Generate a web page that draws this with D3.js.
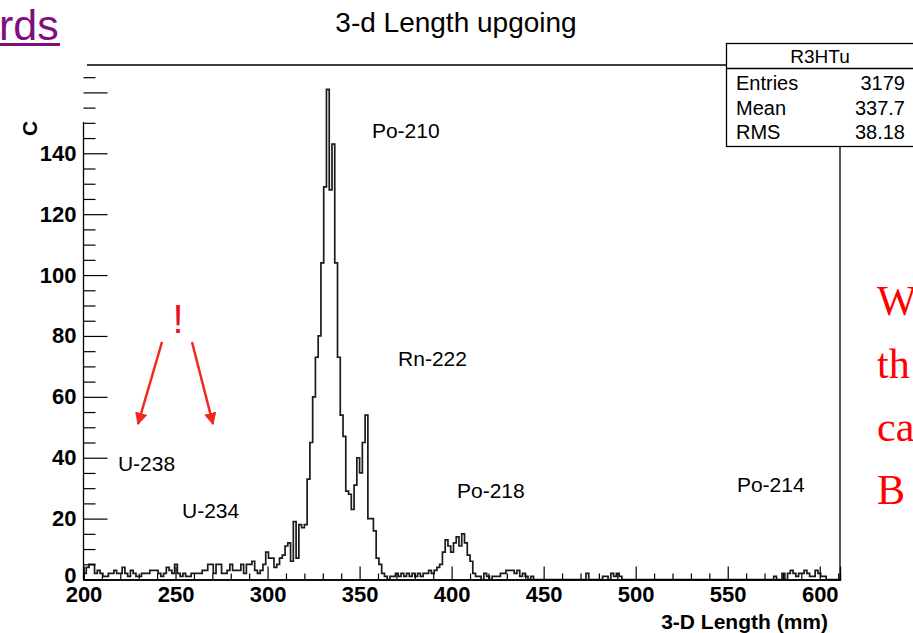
<!DOCTYPE html>
<html><head><meta charset="utf-8">
<script src="https://cdn.jsdelivr.net/npm/d3@7/dist/d3.min.js"></script>
<style>html,body{margin:0;padding:0;background:#fff;overflow:hidden}</style>
</head><body>
<svg id="c" width="913" height="633"></svg>
<script>
// ---- data ----
const histTitle = "3-d Length upgoing";
const xTitle = "3-D Length (mm)";
const yTitleVisible = "C";
const binStart = 200, binWidth = 1.5;
const counts = [
2,4,5,5,2,3,2,1,1,2,
2,3,2,2,4,2,1,3,2,1,
1,2,2,2,3,3,3,2,1,2,
4,3,2,5,2,1,2,1,1,2,
2,2,2,3,3,5,5,2,5,5,
2,2,3,5,3,3,3,5,2,5,
5,6,3,2,3,5,9,7,7,4,
5,7,8,11,12,6,19,7,18,17,
18,33,45,60,73,80,104,129,161,128,
143,104,73,54,47,29,28,23,31,40,
35,45,54,20,20,16,7,5,2,1,
0,1,1,2,1,2,1,2,1,2,
1,2,1,2,2,3,2,3,4,5,
9,13,11,9,12,14,11,15,12,8,
6,2,1,1,0,2,1,0,1,1,
1,2,2,3,3,3,2,3,1,2,
1,0,1,0,0,0,0,0,0,0,
0,0,0,0,0,0,0,0,0,0,
0,0,2,0,0,0,0,0,1,1,
0,2,1,2,1,0,0,0,0,0,
0,0,0,0,0,0,0,0,0,0,
0,0,0,0,0,0,0,0,0,0,
0,0,0,0,0,0,0,0,0,0,
0,0,0,0,0,0,0,0,0,0,
0,0,0,0,0,0,0,0,0,0,
1,0,0,2,0,2,3,2,1,2,
2,3,2,1,1,3,2,1,1,0,
0,0,0,0];
const xDomain = [200, 611];
const yDomain = [0, 169];
const xMajorTicks = [200,250,300,350,400,450,500,550,600];
const yMajorLabels = [0,20,40,60,80,100,120,140];
const statsName = "R3HTu";
const statsLabels = ["Entries","Mean","RMS"];
const statsValues = ["3179","337.7","38.18"];
const peakNames = ["Po-210","Rn-222","Po-218","Po-214","U-238","U-234"];
const peakAt = [[356.7,145],[370.9,70],[402.9,26.8],[555,28.7],[218.7,35.6],[253.5,20.2]];
const sideText = ["W","th","ca","B"];

// ---- drawing ----
const svg = d3.select("#c");
const sans = "'Liberation Sans', Arial, sans-serif";
const x = d3.scaleLinear().domain(xDomain).range([83.5, 840]);
const y = d3.scaleLinear().domain(yDomain).range([579.5, 65]);

// title
svg.append("text").attr("x", 456).attr("y", 32).attr("text-anchor","middle")
  .attr("font-family", sans).attr("font-size", 28).text(histTitle);

// slide link text
svg.append("text").attr("x", -1).attr("y", 40).attr("font-family", sans)
  .attr("font-size", 43).attr("fill", "#7f0f7f").text("rds");
svg.append("rect").attr("x", 0).attr("y", 43).attr("width", 60).attr("height", 3).attr("fill", "#7f0f7f");

// frame
const g = svg.append("g");
g.append("line").attr("x1", 87).attr("x2", x.range()[1]).attr("y1", y.range()[1]).attr("y2", y.range()[1]).attr("stroke","#000").attr("stroke-width",1.3);
g.append("line").attr("x1", x.range()[1]).attr("x2", x.range()[1]).attr("y1", y.range()[1]).attr("y2", y.range()[0]).attr("stroke","#000").attr("stroke-width",1.3);

// histogram
const pts = counts.map((c,i) => [binStart + i*binWidth, c]);
pts.push([binStart + counts.length*binWidth, counts[counts.length-1]]);
const line = d3.line().x(d => x(d[0])).y(d => y(d[1])).curve(d3.curveStepAfter);
g.append("path").attr("d", line(pts)).attr("fill","none").attr("stroke","#1a1a1a").attr("stroke-width",1.7);

// x axis
const xMinor = d3.range(200, 611, 10).filter(v => v % 50 !== 0);
const xa1 = d3.axisBottom(x).tickValues(xMinor).tickSize(-6).tickFormat("");
const xa2 = d3.axisBottom(x).tickValues(xMajorTicks).tickSize(-13).tickPadding(8).tickFormat(d3.format("d"));
const gx1 = g.append("g").attr("transform", `translate(0,${y(0)})`).call(xa1);
const gx2 = g.append("g").attr("transform", `translate(0,${y(0)})`).call(xa2);
[gx1, gx2].forEach(a => { a.select(".domain").attr("stroke","#000").attr("stroke-width",1.3); a.selectAll(".tick line").attr("stroke","#000").attr("stroke-width",1.2); });
gx2.selectAll("text").attr("font-family", sans).attr("font-weight","bold").attr("font-size",22).attr("fill","#000").attr("dy","0.68em");

// y axis
const yMinor = d3.range(0, 169, 5).filter(v => v % 20 !== 0);
const yMajor = d3.range(0, 169, 20);
const ya1 = d3.axisLeft(y).tickValues(yMinor).tickSize(-12).tickFormat("");
const ya2 = d3.axisLeft(y).tickValues(yMajor).tickSize(-24).tickPadding(7)
  .tickFormat(d => yMajorLabels.includes(d) ? d : "");
const gy1 = g.append("g").attr("transform", `translate(${x(200)},0)`).call(ya1);
const gy2 = g.append("g").attr("transform", `translate(${x(200)},0)`).call(ya2);
[gy1, gy2].forEach(a => { a.select(".domain").remove(); a.selectAll(".tick line").attr("stroke","#000").attr("stroke-width",1.2); });
gy2.selectAll("text").attr("font-family", sans).attr("font-weight","bold").attr("font-size",22).attr("fill","#000");
gy2.selectAll(".tick").filter(d => d === 0).select("text").attr("dy","0.15em");
g.append("line").attr("x1", x(200)).attr("x2", x(200)).attr("y1", 122).attr("y2", y(0)).attr("stroke","#000").attr("stroke-width",1.3);

// axis titles
svg.append("text").attr("x", 828).attr("y", 629).attr("text-anchor","end")
  .attr("font-family", sans).attr("font-weight","bold").attr("font-size",21).text(xTitle);
svg.append("text").attr("transform","translate(37,136) rotate(-90)").attr("text-anchor","start")
  .attr("font-family", sans).attr("font-weight","bold").attr("font-size",21).text(yTitleVisible);

// peak labels
peakNames.forEach((n,i) => {
  svg.append("text").attr("x", x(peakAt[i][0])).attr("y", y(peakAt[i][1]))
    .attr("font-family", sans).attr("font-size", 21).attr("fill","#000").text(n);
});

// stats box
const sb = svg.append("g");
sb.append("rect").attr("x", 726.5).attr("y", 43.5).attr("width", 188).attr("height", 103).attr("fill","#fff").attr("stroke","#000").attr("stroke-width",1.3);
sb.append("line").attr("x1", 726.5).attr("x2", 914).attr("y1", 68.5).attr("y2", 68.5).attr("stroke","#000").attr("stroke-width",1.3);
sb.append("text").attr("x", 820).attr("y", 63).attr("text-anchor","middle").attr("font-family", sans).attr("font-size",19).text(statsName);
statsLabels.forEach((l,i) => {
  sb.append("text").attr("x", 736).attr("y", 90 + i*24.5).attr("font-family", sans).attr("font-size",20).text(l);
  sb.append("text").attr("x", 905).attr("y", 90 + i*24.5).attr("text-anchor","end").attr("font-family", sans).attr("font-size",20).text(statsValues[i]);
});

// red exclamation and arrows
const red = "#f2281e";
svg.append("text").attr("x", 178).attr("y", 333).attr("text-anchor","middle").attr("font-family", sans)
  .attr("font-size", 40).attr("fill", "#e8141c").text("!");
const defs = svg.append("defs");
defs.append("marker").attr("id","ah").attr("viewBox","0 0 10 10").attr("refX",9).attr("refY",5)
  .attr("markerWidth",5).attr("markerHeight",5).attr("orient","auto")
  .append("path").attr("d","M0,0 L10,5 L0,10 z").attr("fill", red);
svg.append("line").attr("x1",162).attr("y1",342).attr("x2",138).attr("y2",424).attr("stroke",red).attr("stroke-width",2.5).attr("marker-end","url(#ah)");
svg.append("line").attr("x1",192).attr("y1",342).attr("x2",213).attr("y2",424).attr("stroke",red).attr("stroke-width",2.5).attr("marker-end","url(#ah)");

// right side slide text (cut off by the slide edge)
sideText.forEach((t,i) => {
  svg.append("text").attr("x", 877).attr("y", 315 + i*63).attr("font-family","'Liberation Serif', 'Times New Roman', serif")
    .attr("font-size", 42).attr("fill", "#f00").text(t);
});
</script>
</body></html>
